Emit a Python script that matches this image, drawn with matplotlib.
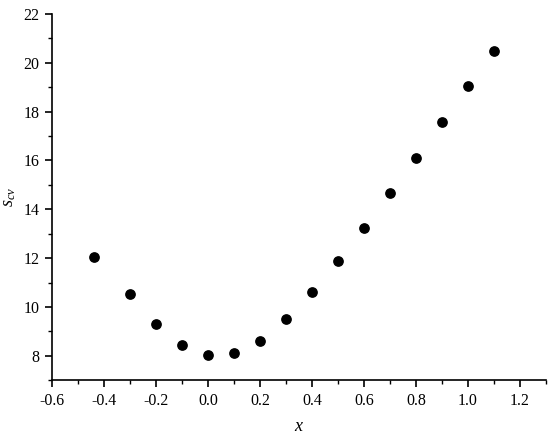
import matplotlib
matplotlib.use("Agg")
import matplotlib.pyplot as plt
from matplotlib.ticker import MultipleLocator

plt.rcParams['font.family'] = ['Liberation Serif', 'DejaVu Serif']
plt.rcParams['mathtext.fontset'] = 'custom'
plt.rcParams['mathtext.it'] = 'Liberation Serif:italic'
plt.rcParams['mathtext.rm'] = 'Liberation Serif'

x = [-0.44, -0.3, -0.2, -0.1, 0.0, 0.1, 0.2, 0.3, 0.4, 0.5, 0.6, 0.7, 0.8, 0.9, 1.0, 1.1]
s_cv = [12.03, 10.55, 9.32, 8.45, 8.05, 8.12, 8.62, 9.5, 10.6, 11.87, 13.24, 14.65, 16.1, 17.57, 19.05, 20.5]

fig = plt.figure(figsize=(5.5, 4.37), dpi=100)
ax = fig.add_axes([0.0945, 0.130, 0.898, 0.838])
ax.scatter(x, s_cv, s=45, color='black', zorder=3)

ax.set_xlim(-0.6, 1.3)
ax.set_ylim(7, 22)
ax.xaxis.set_minor_locator(MultipleLocator(0.1))
ax.yaxis.set_minor_locator(MultipleLocator(1))
ax.set_xticks([-0.6, -0.4, -0.2, 0.0, 0.2, 0.4, 0.6, 0.8, 1.0, 1.2])
ax.set_xticklabels(['-0.6', '-0.4', '-0.2', '0.0', '0.2', '0.4', '0.6', '0.8', '1.0', '1.2'])
ax.set_yticks([8, 10, 12, 14, 16, 18, 20, 22])
ax.spines['top'].set_visible(False)
ax.spines['right'].set_visible(False)
for sp in ('left', 'bottom'):
    ax.spines[sp].set_linewidth(1.2)
ax.tick_params(which='major', direction='out', length=5, width=1.2, labelsize=11.5, pad=4)
ax.tick_params(which='minor', direction='out', length=3, width=1.0)
ax.set_xlabel(r'$x$', fontsize=13, labelpad=7)
ax.set_ylabel(r'$s_{cv}$', fontsize=13, labelpad=4)

fig.savefig('out.png', dpi=100)
